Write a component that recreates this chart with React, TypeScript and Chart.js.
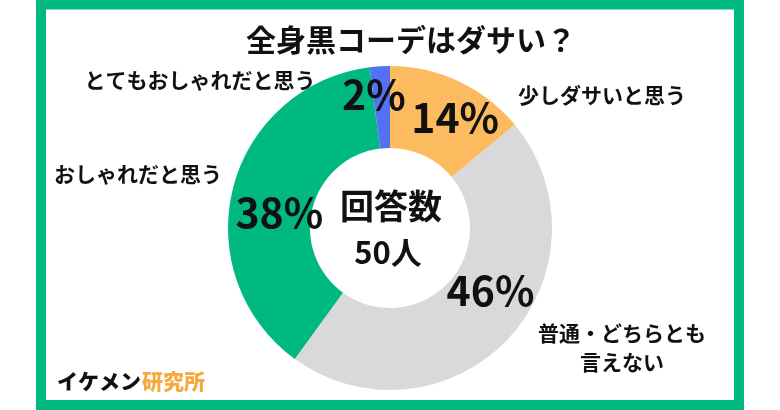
import { useEffect, useRef } from 'react';
import { Chart, registerables } from 'chart.js';

Chart.register(...registerables);

const title = '全身黒コーデはダサい？';
const categories = ['少しダサいと思う', '普通・どちらとも言えない', 'おしゃれだと思う', 'とてもおしゃれだと思う'];
const values = [14, 46, 38, 2];
const colors = ['#FDBB5F', '#D9D9D9', '#00B981', '#5470F3'];
const centerLines = ['回答数', '50人'];

// where each category name sits, as offsets from the doughnut centre; multi-line names split on '|'
const namePlacement = [
  { text: '少しダサいと思う', dx: 212, dy: -133 },
  { text: '普通・どちらとも|言えない', dx: 232, dy: 105 },
  { text: 'おしゃれだと思う', dx: -252, dy: -54 },
  { text: 'とてもおしゃれだと思う', dx: -190, dy: -148 },
];

// percent labels: angle (deg, clockwise from top) and radius as a share of the outer radius
const pctPlacement = [
  { angle: 30.6, r: 0.79 },
  { angle: 121.8, r: 0.73 },
  { angle: 278.2, r: 0.69 },
  { angle: 353.1, r: 0.83 },
];

const FONT = '"Noto Sans CJK JP", "Noto Sans", sans-serif';
const GREEN = '#00B981';

const decorPlugin = {
  id: 'decor',
  beforeDraw(chart: Chart) {
    const { ctx, width, height } = chart;
    ctx.save();
    ctx.fillStyle = '#ffffff';
    ctx.fillRect(0, 0, width, height);
    ctx.strokeStyle = GREEN;
    ctx.lineWidth = 10;
    ctx.strokeRect(41, 4.5, 698, 400.5);
    ctx.restore();
  },
  afterDraw(chart: Chart) {
    const { ctx } = chart;
    const arc: any = chart.getDatasetMeta(0).data[0];
    if (!arc) return;
    const cx = arc.x;
    const cy = arc.y;
    const outer = arc.outerRadius;
    const total = values.reduce((a, b) => a + b, 0);

    ctx.save();
    ctx.fillStyle = '#111111';
    ctx.textAlign = 'center';
    ctx.textBaseline = 'middle';

    // title
    ctx.font = `bold 30px ${FONT}`;
    ctx.fillText(title, cx + 21, 40);

    // percentages
    ctx.font = `bold 41px ${FONT}`;
    values.forEach((v, i) => {
      const p = pctPlacement[i];
      const a = (p.angle * Math.PI) / 180;
      const x = cx + Math.sin(a) * outer * p.r;
      const y = cy - Math.cos(a) * outer * p.r;
      ctx.fillText(`${Math.round((v / total) * 100)}%`, x, y);
    });

    // category names
    ctx.font = `bold 21px ${FONT}`;
    namePlacement.forEach((n) => {
      n.text.split('|').forEach((line, j) => {
        ctx.fillText(line, cx + n.dx, cy + n.dy + j * 29);
      });
    });

    // centre text
    ctx.font = `bold 34px ${FONT}`;
    ctx.fillText(centerLines[0], cx + 1, cy - 22);
    ctx.font = `bold 31px ${FONT}`;
    ctx.fillText(centerLines[1], cx - 2, cy + 24);

    // brand
    ctx.textAlign = 'left';
    ctx.font = `900 21px ${FONT}`;
    ctx.fillStyle = '#111111';
    ctx.fillText('イケメン', 57, 381);
    const w = ctx.measureText('イケメン').width;
    ctx.fillStyle = '#F5AA40';
    ctx.fillText('研究所', 57 + w + 1, 381);
    ctx.restore();
  },
};

export default function App() {
  const canvasRef = useRef<HTMLCanvasElement>(null);
  const chartRef = useRef<Chart | null>(null);

  useEffect(() => {
    document.body.style.margin = '0';
    if (!canvasRef.current) return;
    if (chartRef.current) chartRef.current.destroy();
    const ctx = canvasRef.current.getContext('2d');
    if (!ctx) return;

    chartRef.current = new Chart(ctx, {
      type: 'doughnut',
      data: {
        labels: categories,
        datasets: [
          {
            data: values,
            backgroundColor: colors,
            borderWidth: 0,
          },
        ],
      },
      options: {
        responsive: true,
        maintainAspectRatio: false,
        animation: false,
        cutout: '49.4%',
        layout: { padding: { left: 228, right: 228, top: 66, bottom: 20 } },
        plugins: {
          legend: { display: false },
          tooltip: { enabled: false },
        },
      },
      plugins: [decorPlugin],
    });

    return () => {
      if (chartRef.current) {
        chartRef.current.destroy();
        chartRef.current = null;
      }
    };
  }, []);

  return (
    <div style={{ width: 780, height: 410 }}>
      <canvas ref={canvasRef} />
    </div>
  );
}
